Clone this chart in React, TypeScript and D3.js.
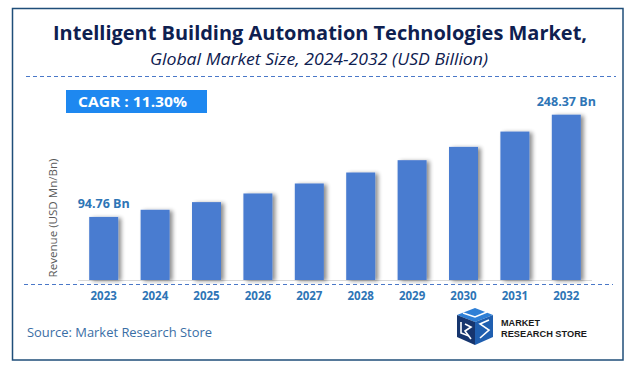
import React from "react";
import * as d3 from "d3";

const years = ["2023", "2024", "2025", "2026", "2027", "2028", "2029", "2030", "2031", "2032"];
const revenue = [94.76, 105.5, 117, 130, 145, 161.5, 180, 200, 223, 248.37];
const valueLabels = ["94.76 Bn", "", "", "", "", "", "", "", "", "248.37 Bn"];

const W = 634;
const H = 375;

export default function App() {
  const x = d3.scaleBand<string>().domain(years).range([78, 592]).paddingInner(0.436).paddingOuter(0.218);
  const y = d3.scaleLinear().domain([0, 250]).range([280, 113.6]);
  const bw = x.bandwidth();
  return (
    <svg width={W} height={H} style={{ position: "absolute", left: 0, top: 0 }}>
      <defs>
        <filter id="sh" x="-30%" y="-10%" width="160%" height="120%">
          <feGaussianBlur in="SourceAlpha" stdDeviation="2" />
          <feOffset dx="3" dy="1" result="b" />
          <feComponentTransfer>
            <feFuncA type="linear" slope="0.45" />
          </feComponentTransfer>
          <feMerge>
            <feMergeNode />
            <feMergeNode in="SourceGraphic" />
          </feMerge>
        </filter>
      </defs>
      <rect x={0} y={0} width={W} height={H} fill="#ffffff" />
      <rect x={12.5} y={8.5} width={610.5} height={351.5} fill="none" stroke="#1f4e79" strokeWidth={1.5} />
      <text x={320} y={40} textAnchor="middle" fontFamily="Open Sans, sans-serif" fontWeight={700} fontSize={20}
        fill="#0e2050" textLength={534} lengthAdjust="spacingAndGlyphs">
        Intelligent Building Automation Technologies Market,
      </text>
      <text x={319} y={65} textAnchor="middle" fontFamily="Open Sans, sans-serif" fontStyle="italic" fontSize={16}
        fill="#0e2050" textLength={338} lengthAdjust="spacingAndGlyphs">
        Global Market Size, 2024-2032 (USD Billion)
      </text>
      <line x1={26} x2={616} y1={76.5} y2={76.5} stroke="#4a78c8" strokeWidth={1} strokeDasharray="4,3" />

      <rect x={66} y={90} width={141} height={23} fill="#1e88f0" />
      <text x={78} y={107} fontFamily="Open Sans, sans-serif" fontWeight={700} fontSize={15} fill="#ffffff"
        textLength={109} lengthAdjust="spacingAndGlyphs">
        CAGR :  11.30%
      </text>

      <text transform={`translate(57,218) rotate(-90)`} textAnchor="middle" fontFamily="Open Sans, sans-serif"
        fontSize={11.5} fill="#595959" textLength={119} lengthAdjust="spacingAndGlyphs">
        Revenue (USD Mn/Bn)
      </text>

      <line x1={78} x2={592} y1={280.5} y2={280.5} stroke="#d9d9d9" strokeWidth={1} />
      {years.map((yr, i) => (
        <rect key={yr} x={x(yr)} y={y(revenue[i])} width={bw} height={y(0) - y(revenue[i])} fill="#4a7bd0" filter="url(#sh)" />
      ))}
      {years.map((yr, i) =>
        valueLabels[i] ? (
          <text key={"l" + yr} x={(x(yr) as number) + bw / 2} y={y(revenue[i]) - 9} textAnchor="middle"
            fontFamily="Open Sans, sans-serif" fontWeight={700} fontSize={12.5} fill="#2e75b6">
            {valueLabels[i]}
          </text>
        ) : null
      )}
      <line x1={24} x2={613} y1={284.5} y2={284.5} stroke="#4a78c8" strokeWidth={1} strokeDasharray="4,3" />
      {years.map((yr) => (
        <text key={"t" + yr} x={(x(yr) as number) + bw / 2} y={299.5} textAnchor="middle"
          fontFamily="Open Sans, sans-serif" fontWeight={700} fontSize={11.5} fill="#2e75b6">
          {yr}
        </text>
      ))}

      <text x={27} y={337} fontFamily="Open Sans, sans-serif" fontSize={13.5} fill="#3a6ea5"
        textLength={185} lengthAdjust="spacingAndGlyphs">
        Source: Market Research Store
      </text>

      <g>
        {/* top face */}
        <polygon points="457,315 475,308 493,315 475,322" fill="#2e7fd6" />
        {/* left face */}
        <polygon points="457,315 475,322 475,345 457,337" fill="#16356e" />
        {/* right face */}
        <polygon points="475,322 493,315 493,337 475,345" fill="#1f5fb0" />
        {/* white letter strokes */}
        <polyline points="463,313 475,317 487,312" fill="none" stroke="#ffffff" strokeWidth={1.6} />
        <polyline points="461,322 461,333 469,336" fill="none" stroke="#ffffff" strokeWidth={1.6} />
        <polyline points="465,324 471,327 465,331 471,339" fill="none" stroke="#ffffff" strokeWidth={1.6} />
        <polyline points="489,320 480,324 489,330 480,338" fill="none" stroke="#ffffff" strokeWidth={1.6} />
        <text x={501} y={326} fontFamily="Liberation Sans, Arial, sans-serif" fontWeight={700} fontSize={9.5}
          fill="#1a1a1a" textLength={39} lengthAdjust="spacingAndGlyphs">MARKET</text>
        <text x={501} y={336.5} fontFamily="Liberation Sans, Arial, sans-serif" fontWeight={700} fontSize={9.5}
          fill="#1a1a1a" textLength={86} lengthAdjust="spacingAndGlyphs">RESEARCH STORE</text>
      </g>
    </svg>
  );
}
